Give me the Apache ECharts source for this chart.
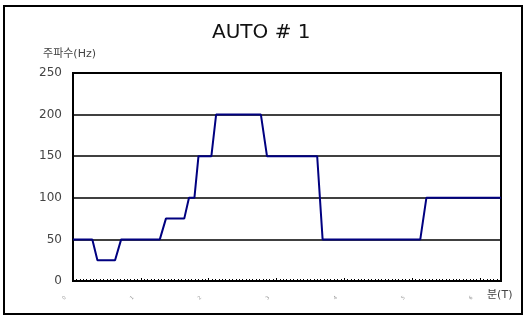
<!DOCTYPE html>
<html>
<head>
<meta charset="utf-8">
<script src="https://cdn.jsdelivr.net/npm/echarts@6/dist/echarts.min.js"></script>
<style>
  html, body { margin: 0; padding: 0; background: #fff; }
  #auto-chart { width: 529px; height: 317px; }
</style>
</head>
<body>
<div id="auto-chart"></div>
<script>
// time in minutes, frequency in Hz
const minutes = [0, 0.285, 0.36, 0.62, 0.71, 1.28, 1.37, 1.64, 1.71, 1.79, 1.85, 2.04, 2.11, 2.77, 2.86, 3.6, 3.68, 5.12, 5.21, 6.31];
const freqHz = [50, 50, 25, 25, 50, 50, 75, 75, 100, 100, 150, 150, 200, 200, 150, 150, 50, 50, 100, 100];
const yTicks = [0, 50, 100, 150, 200, 250];
const xTicks = [0, 1, 2, 3, 4, 5, 6];

const font = "DejaVu Sans, Noto Sans CJK KR, sans-serif";
const chart = echarts.init(document.getElementById("auto-chart"));

const option = {
  animation: false,
  title: {
    text: "AUTO # 1",
    left: 212,
    top: 23,
    padding: 0,
    textStyle: { fontFamily: font, fontSize: 20, fontWeight: "normal", color: "#111" },
  },
  graphic: [
    {
      type: "rect",
      shape: { x: 4, y: 6, width: 518, height: 308 },
      style: { fill: "none", stroke: "#000", lineWidth: 2 },
    },
  ],
  grid: {
    left: 73,
    right: 28,
    top: 73,
    bottom: 36,
    show: true,
    borderColor: "#000",
    borderWidth: 2,
  },
  xAxis: {
    type: "value",
    min: 0,
    max: 6.31,
    interval: 1,
    name: "분(T)",
    nameLocation: "end",
    nameGap: -14,
    nameTextStyle: {
      fontFamily: font,
      fontSize: 11,
      color: "#444",
      align: "left",
      verticalAlign: "top",
      padding: [9, 0, 0, 0],
    },
    axisLine: { lineStyle: { color: "#000", width: 2 } },
    axisTick: { show: true, inside: true, length: 3, lineStyle: { color: "#000" } },
    minorTick: { show: true, splitNumber: 20, length: 2, lineStyle: { color: "#000" } },
    splitLine: { show: false },
    axisLabel: {
      rotate: 45,
      margin: 8,
      fontSize: 5,
      color: "#999",
      fontFamily: font,
      padding: [0, 11, 0, 0],
      showMaxLabel: false,
      formatter: (v) => (xTicks.includes(v) ? String(v) : ""),
    },
  },
  yAxis: {
    type: "value",
    min: yTicks[0],
    max: yTicks[yTicks.length - 1],
    interval: 50,
    name: "주파수(Hz)",
    nameLocation: "end",
    nameGap: 13,
    nameTextStyle: { fontFamily: font, fontSize: 11, color: "#444", padding: [0, 7, 0, 0] },
    axisLine: { show: true, lineStyle: { color: "#000", width: 2 } },
    axisTick: { show: false },
    splitLine: { show: true, lineStyle: { color: "#000", width: 1.5 } },
    axisLabel: { fontFamily: font, fontSize: 12, color: "#444", margin: 11 },
  },
  series: [
    {
      type: "line",
      data: minutes.map((t, i) => [t, freqHz[i]]),
      showSymbol: false,
      lineStyle: { color: "#000080", width: 2 },
    },
  ],
};
chart.setOption(option);
</script>
</body>
</html>
